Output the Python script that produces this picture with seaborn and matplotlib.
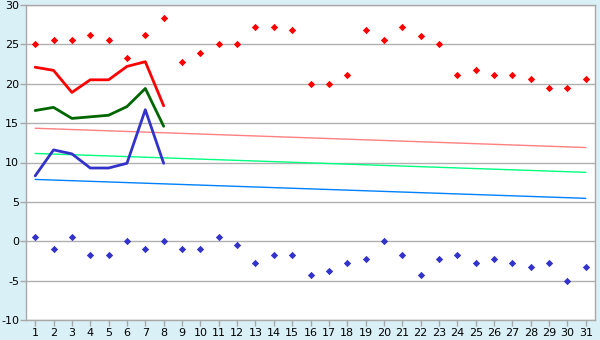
import matplotlib
matplotlib.use("Agg")
import matplotlib.pyplot as plt
import seaborn as sns
import pandas as pd

days = list(range(1, 32))
max_temp = [25.0, 25.6, 25.6, 26.2, 25.6, 23.3, 26.2, 28.3, 22.8, 23.9,
            25.0, 25.0, 27.2, 27.2, 26.8, 20.0, 20.0, 21.1, 26.8, 25.6,
            27.2, 26.1, 25.0, 21.1, 21.7, 21.1, 21.1, 20.6, 19.4, 19.4, 20.6]
min_temp = [0.6, -1.0, 0.6, -1.7, -1.7, 0.0, -1.0, 0.0, -1.0, -1.0,
            0.6, -0.5, -2.8, -1.7, -1.7, -4.3, -3.8, -2.8, -2.2, 0.0,
            -1.7, -4.3, -2.2, -1.7, -2.8, -2.2, -2.8, -3.3, -2.8, -5.0, -3.3]
line_days = [1, 2, 3, 4, 5, 6, 7, 8]
red_line = [22.1, 21.7, 18.9, 20.5, 20.5, 22.2, 22.8, 17.2]
green_line = [16.6, 17.0, 15.6, 15.8, 16.0, 17.1, 19.4, 14.6]
blue_line = [8.3, 11.6, 11.1, 9.3, 9.3, 9.9, 16.7, 9.9]
trend_days = [1, 31]
trend_high = [14.35, 11.9]
trend_mid = [11.15, 8.75]
trend_low = [7.85, 5.45]
y_ticks = [-10, -5, 0, 5, 10, 15, 20, 25, 30]

sns.set_style("white")
fig = plt.figure(figsize=(6, 3.4), dpi=100, facecolor="#daf0f7")
ax = fig.add_axes([26/600, 1-320/340, (595-26)/600, (320-5)/340])
ax.set_facecolor("white")

for vals, col in [(trend_high, "#ff8080"), (trend_mid, "#00ff80"), (trend_low, "#0080ff")]:
    sns.lineplot(x=trend_days, y=vals, ax=ax, color=col, linewidth=1.0)

sns.lineplot(x=line_days, y=red_line, ax=ax, color="#ff0000", linewidth=2)
sns.lineplot(x=line_days, y=green_line, ax=ax, color="#006600", linewidth=2)
sns.lineplot(x=line_days, y=blue_line, ax=ax, color="#3333cc", linewidth=2)

sns.scatterplot(x=days, y=max_temp, ax=ax, color="#ff0000", marker="D", s=14, linewidth=0)
sns.scatterplot(x=days, y=min_temp, ax=ax, color="#3333cc", marker="D", s=14, linewidth=0)

ax.set_xlim(0.5, 31.5)
ax.set_ylim(-10, 30)
ax.set_xticks(days)
ax.set_yticks(y_ticks)
ax.set_yticklabels([str(v) for v in y_ticks])
ax.grid(axis="y", color="#b0b0b0", linewidth=1)
ax.set_axisbelow(True)
for s in ax.spines.values():
    s.set_color("#a8a8a8")
    s.set_linewidth(1)
ax.tick_params(axis="both", labelsize=8, colors="#a8a8a8", labelcolor="black",
               length=4, width=1, direction="out", left=True, bottom=True, pad=1.5)
ax.tick_params(axis="y", pad=1)
ax.set_xlabel("")
ax.set_ylabel("")
fig.savefig("out.png", dpi=100, facecolor=fig.get_facecolor())
